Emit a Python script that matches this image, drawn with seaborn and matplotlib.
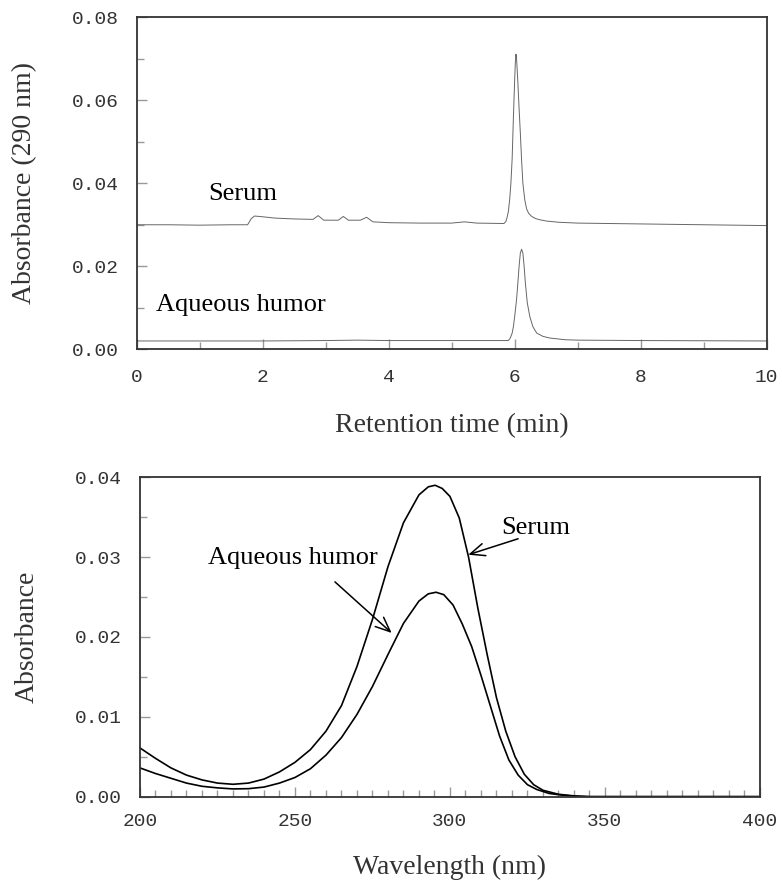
import numpy as np
import pandas as pd
import matplotlib
matplotlib.use("Agg")
import matplotlib.pyplot as plt
import seaborn as sns
from matplotlib.ticker import MultipleLocator, FormatStrFormatter

# Chromatograms: retention time (min) vs absorbance at 290 nm
serum_time = [0.0, 0.5, 1.0, 1.5, 1.76, 1.82, 1.87, 1.95, 2.2, 2.5, 2.8, 2.88, 2.97, 3.2,
              3.28, 3.36, 3.55, 3.65, 3.75, 4.0, 4.5, 5.0, 5.2, 5.4, 5.83, 5.86, 5.88, 5.90,
              5.92, 5.94, 5.96, 5.98, 6.00, 6.01, 6.02, 6.03, 6.05, 6.07, 6.09, 6.11, 6.13,
              6.16, 6.19, 6.22, 6.27, 6.33, 6.40, 6.50, 6.7, 7.0, 8.0, 9.0, 10.0]
serum_abs = [0.0300, 0.0300, 0.0299, 0.0300, 0.0300, 0.0315, 0.0321, 0.0320, 0.0316, 0.0314,
             0.0313, 0.0322, 0.0311, 0.0311, 0.0320, 0.0311, 0.0311, 0.0318, 0.0307, 0.0305,
             0.0304, 0.0304, 0.0307, 0.0304, 0.0303, 0.0308, 0.0318, 0.0332, 0.0360, 0.0400,
             0.0460, 0.0560, 0.0650, 0.0690, 0.0711, 0.0700, 0.0645, 0.0580, 0.0520, 0.0455,
             0.0400, 0.0360, 0.0338, 0.0328, 0.0320, 0.0315, 0.0312, 0.0309, 0.0306, 0.0304,
             0.0302, 0.0300, 0.0298]

humor_time = [0.0, 1.0, 2.0, 3.0, 3.5, 4.0, 5.0, 5.90, 5.93, 5.96, 5.98, 6.00, 6.03, 6.05,
              6.07, 6.09, 6.11, 6.13, 6.15, 6.17, 6.20, 6.24, 6.29, 6.35, 6.45, 6.56, 6.8,
              7.0, 8.0, 10.0]
humor_abs = [0.0020, 0.0020, 0.0020, 0.0021, 0.0022, 0.0021, 0.0021, 0.0021, 0.0027, 0.0039,
             0.0055, 0.0079, 0.0120, 0.0159, 0.0200, 0.0232, 0.0241, 0.0232, 0.0200, 0.0159,
             0.0112, 0.0079, 0.0054, 0.0039, 0.0031, 0.0027, 0.0023, 0.0022, 0.0021, 0.0020]

# UV spectra: wavelength (nm) vs absorbance
serum_wl = [200, 205, 210, 215, 220, 225, 230, 235, 240, 245, 250, 255, 260, 265, 270, 275,
            280, 285, 290, 293, 295.2, 297.5, 300, 303, 306, 309, 312, 315, 318, 321, 324,
            327, 330, 335, 340, 345, 350, 375, 400]
serum_spec = [0.0061, 0.0048, 0.0036, 0.0027, 0.0021, 0.0017, 0.00155, 0.0017, 0.0022, 0.0031,
              0.0043, 0.0059, 0.0082, 0.0114, 0.0163, 0.0222, 0.0288, 0.0343, 0.0378, 0.0388,
              0.0390, 0.0386, 0.0376, 0.0349, 0.0300, 0.0236, 0.0178, 0.0124, 0.0082, 0.0050,
              0.0028, 0.0015, 0.0008, 0.0003, 0.0001, 0.0, 0.0, 0.0, 0.0]

humor_wl = [200, 205, 210, 215, 220, 225, 230, 235, 240, 245, 250, 255, 260, 265, 270, 275,
            280, 285, 290, 293, 295.5, 298, 301, 304, 307, 310, 313, 316, 319, 322, 325, 328,
            332, 336, 340, 345, 350, 375, 400]
humor_spec = [0.0036, 0.0029, 0.0023, 0.0017, 0.0013, 0.0011, 0.00097, 0.0010, 0.0012, 0.0017,
              0.0024, 0.0035, 0.0052, 0.0074, 0.0103, 0.0138, 0.0178, 0.0217, 0.0245, 0.0254,
              0.0256, 0.0253, 0.0240, 0.0216, 0.0188, 0.0152, 0.0114, 0.0076, 0.0046, 0.0027,
              0.0015, 0.0009, 0.0004, 0.0002, 0.00005, 0.0, 0.0, 0.0, 0.0]

sns.set_style("white")
plt.rcParams["font.family"] = ["Liberation Serif", "DejaVu Serif"]

tick_font = "Liberation Mono"
label_kw = dict(fontsize=20, color="#333333", family="Liberation Serif")
note_kw = dict(fontsize=19, color="black", family="Liberation Serif")


def style_axes(ax):
    for s in ax.spines.values():
        s.set_color("#333333")
        s.set_linewidth(1.3)
    ax.tick_params(which="both", direction="in", colors="#999999", labelcolor="#333333",
                   labelsize=14, top=False, right=False, bottom=True, left=True)
    ax.tick_params(which="major", length=7, width=1)
    ax.tick_params(which="minor", length=5, width=1)
    ax.tick_params(axis="y", pad=13)
    ax.tick_params(axis="x", pad=14)
    for lab in ax.get_xticklabels() + ax.get_yticklabels():
        lab.set_family(tick_font)


fig = plt.figure(figsize=(7.82, 8.84), dpi=100)

# ---- chromatograms
ax1 = fig.add_axes([0.1748, 0.6049, 0.8056, 0.3756])
df_s = pd.DataFrame({"time": serum_time, "abs": serum_abs})
df_h = pd.DataFrame({"time": humor_time, "abs": humor_abs})
sns.lineplot(data=df_s, x="time", y="abs", ax=ax1, color="#666666", lw=0.7, estimator=None)
sns.lineplot(data=df_h, x="time", y="abs", ax=ax1, color="#666666", lw=0.7, estimator=None)
ax1.set_xlim(0, 10)
ax1.set_ylim(0, 0.08)
ax1.xaxis.set_major_locator(MultipleLocator(2))
ax1.xaxis.set_minor_locator(MultipleLocator(1))
ax1.yaxis.set_major_locator(MultipleLocator(0.02))
ax1.yaxis.set_minor_locator(MultipleLocator(0.01))
ax1.yaxis.set_major_formatter(FormatStrFormatter("%.2f"))
style_axes(ax1)
ax1.set_xlabel("Retention time (min)", labelpad=20, **label_kw)
ax1.set_ylabel("Absorbance (290 nm)", labelpad=25, **label_kw)
ax1.text(1.13, 0.0374, "Serum", ha="left", va="center", **note_kw)
ax1.text(0.31, 0.0107, "Aqueous humor", ha="left", va="center", **note_kw)

# ---- UV spectra
ax2 = fig.add_axes([0.1790, 0.0988, 0.7928, 0.3613])
df_ss = pd.DataFrame({"wl": serum_wl, "abs": serum_spec})
df_hs = pd.DataFrame({"wl": humor_wl, "abs": humor_spec})
sns.lineplot(data=df_ss, x="wl", y="abs", ax=ax2, color="black", lw=1.2, estimator=None)
sns.lineplot(data=df_hs, x="wl", y="abs", ax=ax2, color="black", lw=1.2, estimator=None)
ax2.set_xlim(200, 400)
ax2.set_ylim(0, 0.04)
ax2.xaxis.set_major_locator(MultipleLocator(50))
ax2.xaxis.set_minor_locator(MultipleLocator(5))
ax2.yaxis.set_major_locator(MultipleLocator(0.01))
ax2.yaxis.set_minor_locator(MultipleLocator(0.005))
ax2.yaxis.set_major_formatter(FormatStrFormatter("%.2f"))
style_axes(ax2)
ax2.tick_params(axis="x", pad=12)
ax2.set_xlabel("Wavelength (nm)", labelpad=18, **label_kw)
ax2.set_ylabel("Absorbance", labelpad=25, **label_kw)

arrow = dict(arrowstyle="->,head_length=0.7,head_width=0.3", lw=1.1, color="black",
             mutation_scale=15, shrinkA=0, shrinkB=0)
ax2.annotate("", xy=(305.9, 0.0303), xytext=(322.0, 0.0323), arrowprops=arrow)
ax2.text(316.6, 0.0337, "Serum", ha="left", va="center", **note_kw)
ax2.annotate("", xy=(281.2, 0.0205), xytext=(262.9, 0.0269), arrowprops=arrow)
ax2.text(222.0, 0.0299, "Aqueous humor", ha="left", va="center", **note_kw)

fig.savefig("out.png", dpi=100)
